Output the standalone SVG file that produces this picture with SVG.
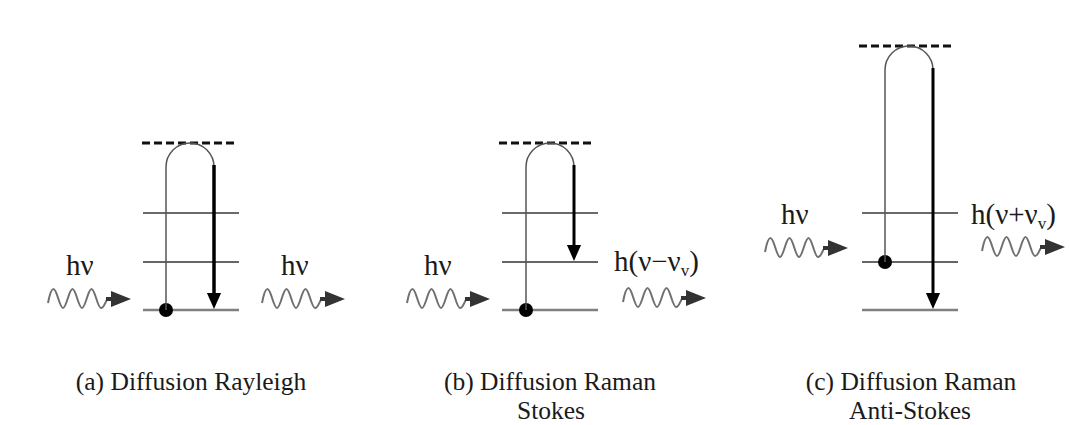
<svg xmlns="http://www.w3.org/2000/svg" xmlns:xlink="http://www.w3.org/1999/xlink" width="1070" height="425" viewBox="0 0 1070 425">
<style>
.bg{fill:#ffffff}
.virt{stroke:#111;stroke-width:3;stroke-dasharray:8 4;fill:none}
.lev1{stroke:#6a6a6a;stroke-width:2;fill:none}
.lev2{stroke:#333;stroke-width:1.4;fill:none}
.lev0{stroke:#808080;stroke-width:2.6;fill:none}
.up{stroke:#555;stroke-width:1.5;fill:none}
.down{stroke:#000;stroke-width:3.5;fill:none;marker-end:url(#head)}
.dot{fill:#000}
.wave{stroke:#707070;stroke-width:2;fill:none}
.lbl{font-family:"Liberation Serif","Times New Roman",serif;font-size:29px;fill:#1a1a1a}
.cap{font-family:"Liberation Serif","Times New Roman",serif;font-size:25.5px;fill:#1a1a1a;text-anchor:middle}
</style>
<defs>
<marker id="head" markerUnits="userSpaceOnUse" markerWidth="16" markerHeight="18" viewBox="0 0 18 16" refX="8" refY="8" orient="auto">
<path d="M0,0 L18,8 L0,16 Z" fill="#000"/>
</marker>
<g id="photon">
<path class="wave" d="M0,4 C1.5,-4 3,-10 5.5,-10 C9,-10 11.5,9 15,9 C18.5,9 21,-10 24.5,-10 C28,-10 30.5,9 34,9 C37.5,9 40,-10 43.5,-10 C47,-10 49.5,9 53,9 C56.5,9 58,0 60,0 L64,0"/>
<path d="M58,-2 L65,-2 L65,2 L58,2 Z" fill="#333"/>
<path d="M63,-8 L83,0 L63,8 Z" fill="#333"/>
</g>
</defs>
<rect class="bg" x="0" y="0" width="1070" height="425"/>

<g id="panel-a">
<line class="virt" x1="142" y1="143" x2="234" y2="143"/>
<line class="lev1" x1="143" y1="213" x2="239" y2="213"/>
<line class="lev2" x1="143" y1="262" x2="239" y2="262"/>
<line class="lev0" x1="143" y1="310" x2="239" y2="310"/>
<circle class="dot" cx="166" cy="310" r="7"/>
<use xlink:href="#photon" x="48" y="299"/>
<use xlink:href="#photon" x="262" y="299"/>
<text class="lbl" x="66" y="275">hν</text>
<text class="lbl" x="281" y="275">hν</text>
<text class="cap" x="191" y="390">(a) Diffusion Rayleigh</text>
</g>

<g id="panel-b">
<line class="virt" x1="499" y1="143" x2="594" y2="143"/>
<line class="lev1" x1="502" y1="213" x2="598" y2="213"/>
<line class="lev2" x1="502" y1="262" x2="598" y2="262"/>
<line class="lev0" x1="502" y1="310" x2="598" y2="310"/>
<circle class="dot" cx="526" cy="310" r="7"/>
<use xlink:href="#photon" x="407" y="299"/>
<use xlink:href="#photon" x="623" y="298"/>
<text class="lbl" x="424" y="275">hν</text>
<text class="lbl" x="614" y="271">h(ν−ν<tspan font-size="17" dy="5">v</tspan><tspan dy="-5">)</tspan></text>
<text class="cap" x="550" y="390">(b) Diffusion Raman</text>
<text class="cap" x="551" y="419">Stokes</text>
</g>

<g id="panel-c">
<line class="virt" x1="859" y1="46" x2="954" y2="46"/>
<line class="lev1" x1="862" y1="213" x2="958" y2="213"/>
<line class="lev2" x1="862" y1="262" x2="958" y2="262"/>
<line class="lev0" x1="862" y1="310" x2="958" y2="310"/>
<circle class="dot" cx="885" cy="262" r="7"/>
<use xlink:href="#photon" x="765" y="248"/>
<use xlink:href="#photon" x="982" y="247"/>
<text class="lbl" x="781" y="224">hν</text>
<text class="lbl" x="971" y="224">h(ν+ν<tspan font-size="17" dy="5">v</tspan><tspan dy="-5">)</tspan></text>
<text class="cap" x="911" y="390">(c) Diffusion Raman</text>
<text class="cap" x="910" y="419">Anti-Stokes</text>
</g>

<g id="connectors">
<path class="up" d="M166,310 V167 A24,24 0 0 1 214,167"/>
<line class="down" x1="214" y1="165" x2="214" y2="300"/>
<path class="up" d="M526,310 V167 A24,24 0 0 1 574,167"/>
<line class="down" x1="574" y1="165" x2="574" y2="252" style="stroke-width:3"/>
<path class="up" d="M885,262 V70 A24,24 0 0 1 933,70"/>
<line class="down" x1="933" y1="68" x2="933" y2="300" style="stroke-width:3"/>
</g>
</svg>
